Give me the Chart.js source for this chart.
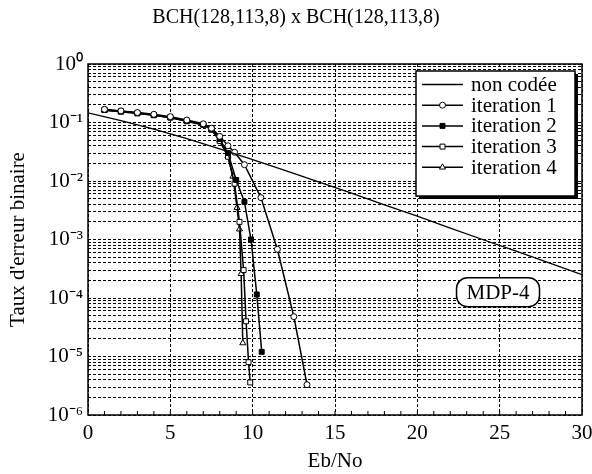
<!DOCTYPE html>
<html><head><meta charset="utf-8">
<script src="https://cdn.jsdelivr.net/npm/chart.js@4/dist/chart.umd.min.js"></script>
<style>html,body{margin:0;padding:0;background:#fff}#wrap{width:592px;height:474px}</style>
</head><body><div id="wrap"><canvas id="c" width="592" height="474"></canvas></div>
<script>
const titleText = 'BCH(128,113,8) x BCH(128,113,8)';
const xTitle = 'Eb/No';
const yTitle = "Taux d'erreur binaire";
const annotationText = 'MDP-4';
const xTickValues = [0, 5, 10, 15, 20, 25, 30];
const yDecades = [-6, -5, -4, -3, -2, -1, 0];
const yTickLabels = ['10⁻⁶', '10⁻⁵', '10⁻⁴', '10⁻³', '10⁻²', '10⁻¹', '10⁰'];
const seriesNames = ['non codée', 'iteration 1', 'iteration 2', 'iteration 3', 'iteration 4'];

const nonCodeeX = [0, 2, 4, 6, 8, 10, 12, 14, 16, 18, 20, 22, 24, 26, 28, 30];
const nonCodeeY = [0.146, 0.108, 0.077, 0.053, 0.0355, 0.0233, 0.0151, 0.0097, 0.0062, 0.0039, 0.0025, 0.00157, 0.00099, 0.00063, 0.0004, 0.00025];

const iter1X = [1, 2, 3, 4, 5, 6, 7, 7.5, 8, 8.5, 8.9, 9.5, 10.5, 11.5, 12.5, 13.3];
const iter1Y = [0.168, 0.158, 0.148, 0.138, 0.126, 0.11, 0.095, 0.08, 0.058, 0.04, 0.031, 0.019, 0.0052, 0.00068, 0.000048, 0.0000033];

const iter2X = [1, 2, 3, 4, 5, 6, 7, 7.5, 8, 8.5, 9, 9.5, 9.9, 10.25, 10.55];
const iter2Y = [0.165, 0.155, 0.145, 0.135, 0.123, 0.107, 0.093, 0.078, 0.052, 0.03, 0.0104, 0.0044, 0.001, 0.000115, 0.000012];

const iter3X = [1, 2, 3, 4, 5, 6, 7, 7.5, 8, 8.5, 8.9, 9.2, 9.45, 9.6, 9.75, 9.85];
const iter3Y = [0.163, 0.153, 0.143, 0.133, 0.121, 0.105, 0.091, 0.075, 0.048, 0.026, 0.009, 0.002, 0.0003, 0.00004, 0.000008, 0.0000036];

const iter4X = [1, 2, 3, 4, 5, 6, 7, 7.5, 8, 8.5, 8.8, 9.05, 9.2, 9.3, 9.4];
const iter4Y = [0.162, 0.152, 0.147, 0.133, 0.122, 0.105, 0.092, 0.076, 0.05, 0.027, 0.012, 0.0035, 0.0015, 0.00026, 0.000017];

const FONT = '"Liberation Serif","Times New Roman",serif';
const pts = (xs, ys) => xs.map((x, i) => ({x: x, y: ys[i]}));

const seriesStyles = [
  {pointStyle: false, pointRadius: 0, borderWidth: 1.3, fill: '#fff'},
  {pointStyle: 'circle', pointRadius: 3, borderWidth: 1.5, fill: '#fff'},
  {pointStyle: 'rect', pointRadius: 3.5, borderWidth: 1.5, fill: '#000'},
  {pointStyle: 'rect', pointRadius: 3.5, borderWidth: 1.5, fill: '#fff'},
  {pointStyle: 'triangle', pointRadius: 3.5, borderWidth: 1.5, fill: '#fff'}
];
const seriesData = [pts(nonCodeeX, nonCodeeY), pts(iter1X, iter1Y), pts(iter2X, iter2Y), pts(iter3X, iter3Y), pts(iter4X, iter4Y)];

const datasets = seriesNames.map((name, i) => ({
  label: name,
  data: seriesData[i],
  borderColor: '#000',
  backgroundColor: seriesStyles[i].fill,
  borderWidth: seriesStyles[i].borderWidth,
  pointStyle: seriesStyles[i].pointStyle,
  pointRadius: seriesStyles[i].pointRadius,
  pointBorderWidth: 1,
  pointBackgroundColor: seriesStyles[i].fill,
  pointBorderColor: '#000',
  tension: 0,
  fill: false
}));

function drawMarker(ctx, style, x, y, r, fill) {
  ctx.save();
  ctx.lineWidth = 1;
  ctx.strokeStyle = '#000';
  ctx.fillStyle = fill;
  ctx.beginPath();
  if (style === 'circle') {
    ctx.arc(x, y, r, 0, Math.PI * 2);
  } else if (style === 'rect') {
    const s = r * Math.SQRT1_2;
    ctx.rect(x - s, y - s, 2 * s, 2 * s);
  } else if (style === 'triangle') {
    ctx.moveTo(x, y - r);
    ctx.lineTo(x + r * 0.866, y + r * 0.5);
    ctx.lineTo(x - r * 0.866, y + r * 0.5);
    ctx.closePath();
  }
  ctx.fill();
  ctx.stroke();
  ctx.restore();
}

const decorPlugin = {
  id: 'decor',
  beforeDatasetsDraw(chart) {
    const {ctx, chartArea: a, scales} = chart;
    ctx.save();
    ctx.strokeStyle = '#000';
    ctx.lineWidth = 1.5;
    ctx.strokeRect(a.left, a.top, a.right - a.left, a.bottom - a.top);
    ctx.lineWidth = 1;
    for (let v = 1; v < 30; v++) {
      const px = scales.x.getPixelForValue(v);
      ctx.beginPath();
      ctx.moveTo(px, a.bottom);
      ctx.lineTo(px, a.bottom - 4);
      ctx.stroke();
    }
    ctx.restore();
  },
  afterDatasetsDraw(chart) {
    const {ctx, chartArea: a, scales} = chart;
    const bw = 159, bh = 125;
    const bx = a.right - 7 - bw, by = a.top + 7;
    ctx.save();
    ctx.fillStyle = '#000';
    ctx.fillRect(bx + 3, by + 3, bw, bh);
    ctx.fillStyle = '#fff';
    ctx.fillRect(bx, by, bw, bh);
    ctx.strokeStyle = '#000';
    ctx.lineWidth = 1.5;
    ctx.strokeRect(bx, by, bw, bh);
    ctx.font = '21px ' + FONT;
    ctx.textBaseline = 'middle';
    ctx.textAlign = 'left';
    chart.data.datasets.forEach((ds, i) => {
      const y = by + 13.5 + i * 20.7;
      ctx.strokeStyle = '#000';
      ctx.lineWidth = ds.borderWidth;
      ctx.beginPath();
      ctx.moveTo(bx + 6, y);
      ctx.lineTo(bx + 47, y);
      ctx.stroke();
      if (ds.pointStyle) drawMarker(ctx, ds.pointStyle, bx + 26.5, y, ds.pointRadius, ds.pointBackgroundColor);
      ctx.fillStyle = '#000';
      ctx.fillText(ds.label, bx + 55, y + 1);
    });
    const cx = scales.x.getPixelForValue(24.9);
    const cy = scales.y.getPixelForValue(1.26e-4);
    const w = 83, h = 29, r = 11;
    const l = cx - w / 2, t = cy - h / 2;
    ctx.beginPath();
    ctx.moveTo(l + r, t);
    ctx.lineTo(l + w - r, t);
    ctx.arcTo(l + w, t, l + w, t + r, r);
    ctx.lineTo(l + w, t + h - r);
    ctx.arcTo(l + w, t + h, l + w - r, t + h, r);
    ctx.lineTo(l + r, t + h);
    ctx.arcTo(l, t + h, l, t + h - r, r);
    ctx.lineTo(l, t + r);
    ctx.arcTo(l, t, l + r, t, r);
    ctx.closePath();
    ctx.fillStyle = '#fff';
    ctx.fill();
    ctx.lineWidth = 1.5;
    ctx.strokeStyle = '#000';
    ctx.stroke();
    ctx.fillStyle = '#000';
    ctx.textAlign = 'center';
    ctx.fillText(annotationText, cx, cy + 1);
    ctx.restore();
  }
};

const isDecade = v => Math.abs(Math.log10(v) - Math.round(Math.log10(v))) < 1e-9;

new Chart(document.getElementById('c'), {
  type: 'line',
  data: {datasets: datasets},
  options: {
    responsive: false,
    animation: false,
    devicePixelRatio: 1,
    layout: {padding: {left: 0, right: 0, top: 0, bottom: 0}},
    plugins: {
      legend: {display: false},
      tooltip: {enabled: false},
      title: {
        display: true, text: titleText, color: '#000',
        font: {family: FONT, size: 20, weight: 'normal'},
        padding: {top: 6, bottom: 34}
      }
    },
    scales: {
      x: {
        type: 'linear', min: 0, max: 30,
        afterBuildTicks: s => { s.ticks = xTickValues.map(v => ({value: v})); },
        afterFit: s => { s.height = 59; s.paddingRight = 10; s.paddingLeft = 0; },
        ticks: {color: '#000', font: {family: FONT, size: 21}, padding: 6, maxRotation: 0, autoSkip: false},
        grid: {color: '#000', lineWidth: 1, drawTicks: false},
        border: {display: false, dash: [3, 2]},
        title: {display: true, text: xTitle, color: '#000', font: {family: FONT, size: 21}, padding: {top: 0, bottom: 0}}
      },
      y: {
        type: 'logarithmic', min: 1e-6, max: 1,
        afterBuildTicks: s => {
          const t = [];
          yDecades.forEach(d => {
            if (d === 0) { t.push({value: 1}); return; }
            for (let m = 1; m <= 9; m++) t.push({value: m * Math.pow(10, d)});
          });
          s.ticks = t;
        },
        afterFit: s => { s.width = 88; },
        ticks: {
          color: '#000', font: {family: FONT, size: 21}, padding: 5, autoSkip: false,
          callback: function(v) {
            if (!isDecade(v)) return '';
            const k = yDecades.indexOf(Math.round(Math.log10(v)));
            return yTickLabels[k];
          }
        },
        grid: {color: '#000', lineWidth: 1, drawTicks: false},
        border: {display: false, dash: [3, 2]},
        title: {display: true, text: yTitle, color: '#000', font: {family: FONT, size: 21}, padding: {top: 6, bottom: 0}}
      }
    }
  },
  plugins: [decorPlugin]
});
</script>
</body></html>
